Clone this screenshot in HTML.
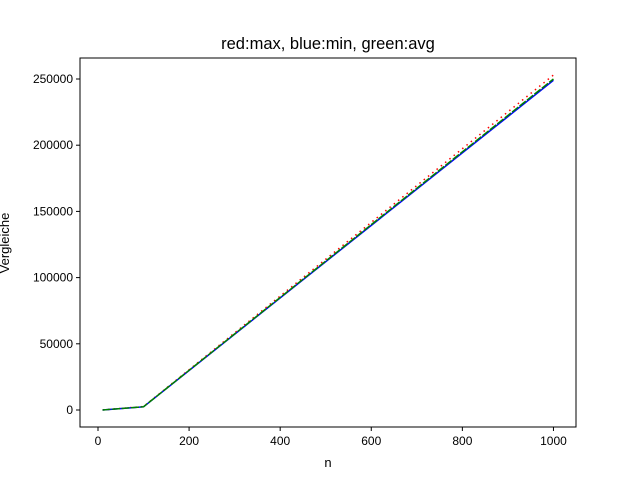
<!DOCTYPE html>
<html><head><meta charset="utf-8"><style>
body{margin:0;background:#fff;}
svg{font-family:"Liberation Sans","DejaVu Sans",sans-serif;}
</style></head><body>
<svg id="chart" width="640" height="480">
<rect width="640" height="480" fill="#fff"/>
<text x="328" y="49" font-size="16.5" text-anchor="middle">red:max, blue:min, green:avg</text>
<g id="plot"></g>
<rect x="80" y="58" width="496" height="369" fill="none" stroke="#000" stroke-width="1"/>
<text x="328" y="467" font-size="13" text-anchor="middle">n</text>
<text transform="translate(9,243) rotate(-90)" font-size="13" text-anchor="middle">Vergleiche</text>
</svg>
<script>
const nValues=[10,100,1000];
const maxValues=[60,2600,253000];
const minValues=[40,2400,249000];
const avgValues=[45,2475,250000];
const xTicks=[0,200,400,600,800,1000];
const yTicks=[0,50000,100000,150000,200000,250000];
const X0=-39.5,X1=1049.5,Y0=-12840,Y1=265860;
const L=80,R=576,T=58,B=427;
const sx=v=>L+(v-X0)/(X1-X0)*(R-L);
const sy=v=>B-(v-Y0)/(Y1-Y0)*(B-T);
const NS="http://www.w3.org/2000/svg";
const g=document.getElementById('plot');
function mk(tag,a){const e=document.createElementNS(NS,tag);for(const k in a)e.setAttribute(k,a[k]);g.appendChild(e);return e;}
xTicks.forEach(t=>{
 const l=mk('line',{x1:sx(t),x2:sx(t),y1:B,y2:B+4,stroke:'#000'});
 
 
 const tx=mk('text',{x:sx(t),y:B+18,'font-size':12,'text-anchor':'middle'});tx.textContent=t;
 
 
});
yTicks.forEach(t=>{
 const l=mk('line',{x1:L-4,x2:L,y1:sy(t),y2:sy(t),stroke:'#000'});
 
 
 const tx=mk('text',{x:L-7,y:sy(t)+4,'font-size':12,'text-anchor':'end'});tx.textContent=t;
 
 
});
function series(vals,color,dash,name){
 const pts=nValues.map((n,i)=>sx(n)+','+sy(vals[i])).join(' ');
 const p=mk('polyline',{points:pts,fill:'none',stroke:color,'stroke-width':1.5,'stroke-dasharray':dash});
 
 
}
series(maxValues,'#ff0000','1.5 4','max-line');
series(minValues,'#0000ff','none','min-line');
series(avgValues,'#008000','8 1.5','avg-line');
</script>
</body></html>
